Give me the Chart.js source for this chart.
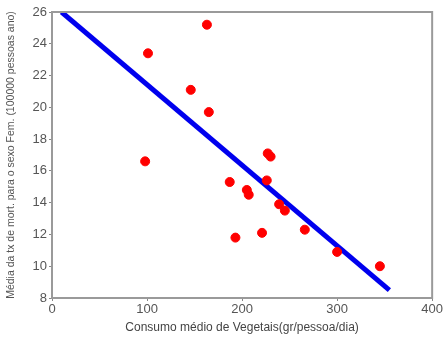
<!DOCTYPE html>
<html>
<head>
<meta charset="utf-8">
<script src="https://cdn.jsdelivr.net/npm/chart.js@4/dist/chart.umd.min.js"></script>
<style>
  html, body { margin: 0; padding: 0; background: #fff; }
  #wrap { width: 444px; height: 343px; position: relative; }
</style>
</head>
<body>
<div id="wrap"><canvas id="c" width="444" height="343"></canvas></div>
<script>
// Vegetable consumption (g/person/day) vs mean female mortality rate
const consumo = [98, 101, 146, 163, 165, 187, 193, 205, 207, 221, 226, 227, 230, 239, 245, 266, 300, 345];
const mortalidade = [16.6, 23.4, 21.1, 25.2, 19.7, 15.3, 11.8, 14.8, 14.5, 12.1, 15.4, 17.1, 16.9, 13.9, 13.5, 12.3, 10.9, 10.0];

// Fitted regression line endpoints
const ajusteX = [10, 355];
const ajusteY = [26.0, 8.5];

const xTicks = [0, 100, 200, 300, 400];
const yTicks = [8, 10, 12, 14, 16, 18, 20, 22, 24, 26];

const pontos = consumo.map((x, i) => ({ x, y: mortalidade[i] }));
const reta = ajusteX.map((x, i) => ({ x, y: ajusteY[i] }));

// Grey frame around the plotting area
const moldura = {
  id: 'moldura',
  afterDraw(chart) {
    const a = chart.chartArea, ctx = chart.ctx;
    ctx.save();
    ctx.strokeStyle = '#9a9a9a';
    ctx.lineWidth = 2;
    ctx.strokeRect(a.left, a.top, a.right - a.left, a.bottom - a.top);
    ctx.restore();
  }
};

new Chart(document.getElementById('c'), {
  type: 'scatter',
  data: {
    datasets: [
      {
        type: 'line',
        data: reta,
        borderColor: '#0000ee',
        borderWidth: 5,
        pointRadius: 0,
        fill: false,
        order: 2
      },
      {
        data: pontos,
        backgroundColor: '#ff0000',
        borderColor: '#ff0000',
        pointRadius: 4.5,
        order: 1
      }
    ]
  },
  plugins: [moldura],
  options: {
    responsive: false,
    animation: false,
    layout: { padding: { top: 12, right: 9, left: 0, bottom: 8 } },
    plugins: { legend: { display: false }, tooltip: { enabled: false } },
    scales: {
      x: {
        type: 'linear',
        min: 0, max: 400,
        afterBuildTicks: s => { s.ticks = xTicks.map(v => ({ value: v })); },
        afterFit: s => { s.height = 37; },
        grid: { drawOnChartArea: false, tickLength: 3, color: '#888' },
        border: { color: '#9a9a9a', width: 2 },
        ticks: { color: '#555', font: { family: 'Liberation Sans', size: 13 }, padding: 1 },
        title: {
          display: true,
          text: 'Consumo médio de Vegetais(gr/pessoa/dia)',
          color: '#444',
          font: { family: 'Liberation Sans', size: 12 },
          padding: { top: 0, bottom: 0 }
        }
      },
      y: {
        type: 'linear',
        min: 8, max: 26,
        afterBuildTicks: s => { s.ticks = yTicks.map(v => ({ value: v })); },
        afterFit: s => { s.width = 52; },
        grid: { drawOnChartArea: false, tickLength: 3, color: '#888' },
        border: { color: '#9a9a9a', width: 2 },
        ticks: { color: '#555', font: { family: 'Liberation Sans', size: 13 }, padding: 2 },
        title: {
          display: true,
          text: 'Média da tx de mort. para o sexo Fem. (100000 pessoas ano)',
          color: '#555',
          font: { family: 'Liberation Sans', size: 10.5 },
          padding: { top: 5, bottom: 2 }
        }
      }
    }
  }
});
</script>
</body>
</html>
